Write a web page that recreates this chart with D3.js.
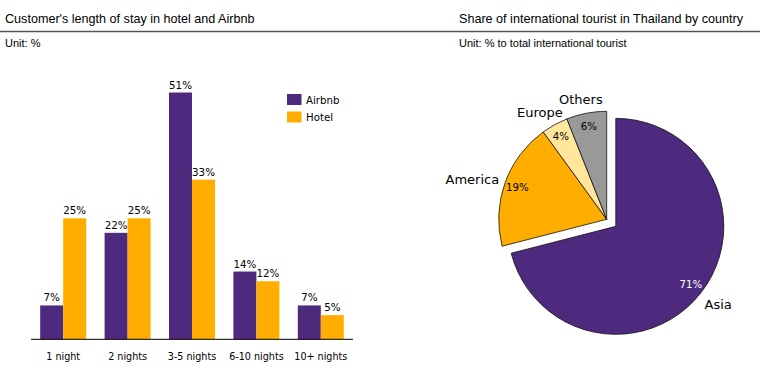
<!DOCTYPE html>
<html><head><meta charset="utf-8">
<script src="https://cdn.jsdelivr.net/npm/d3@7"></script>
<style>body{margin:0;background:#fff}svg{display:block}</style>
</head><body>
<svg id="c" width="760" height="375"></svg>
<script>
const categories = ["1 night","2 nights","3-5 nights","6-10 nights","10+ nights"];
const seriesNames = ["Airbnb","Hotel"];
const airbnb = [7,22,51,14,7];
const hotel = [25,25,33,12,5];
const regions = ["Asia","America","Europe","Others"];
const shares = [71,19,4,6];

const purple = "#4E2A7E", orange = "#FFAE00";
const pieColors = [purple, orange, "#FFE69A", "#999999"];
const svg = d3.select("#c");
const titleFont = "'Liberation Sans', Arial, sans-serif";
const chartFont = "'DejaVu Sans', Verdana, sans-serif";

// header
svg.append("line").attr("x1",0).attr("x2",760).attr("y1",31.5).attr("y2",31.5)
  .attr("stroke","#555").attr("stroke-width",1.6);
svg.append("text").attr("x",5).attr("y",23).attr("font-family",titleFont).attr("font-size",12.6)
  .text("Customer's length of stay in hotel and Airbnb");
svg.append("text").attr("x",5).attr("y",47).attr("font-family",titleFont).attr("font-size",11)
  .text("Unit: %");
svg.append("text").attr("x",459).attr("y",23).attr("font-family",titleFont).attr("font-size",12.6)
  .text("Share of international tourist in Thailand by country");
svg.append("text").attr("x",459).attr("y",47).attr("font-family",titleFont).attr("font-size",11)
  .text("Unit: % to total international tourist");

// bar chart
const x0 = d3.scaleBand().domain(categories).range([31,353]);
const x1 = d3.scaleBand().domain(seriesNames).range([-23,23]);
const y = d3.scaleLinear().domain([0,51]).range([339.3,92.5]);
const rows = categories.map((c,i)=>({cat:c, vals:[{s:"Airbnb",v:airbnb[i]},{s:"Hotel",v:hotel[i]}]}));
const color = d3.scaleOrdinal().domain(seriesNames).range([purple, orange]);

const g = svg.append("g");
const grp = g.selectAll("g.grp").data(rows).join("g")
  .attr("transform", d=>`translate(${x0(d.cat)+x0.bandwidth()/2},0)`);
grp.selectAll("rect").data(d=>d.vals).join("rect")
  .attr("x", d=>x1(d.s)).attr("width", x1.bandwidth())
  .attr("y", d=>y(d.v)).attr("height", d=>y(0)-y(d.v))
  .attr("fill", d=>color(d.s));
grp.selectAll("text").data(d=>d.vals).join("text")
  .attr("x", d=>x1(d.s)+x1.bandwidth()/2).attr("y", d=>y(d.v)-4)
  .attr("text-anchor","middle").attr("font-family",chartFont).attr("font-size",10.3)
  .text(d=>d.v+"%");

const xAxis = g.append("g").attr("transform","translate(0,339.3)")
  .call(d3.axisBottom(x0).tickSize(0).tickPadding(14));
xAxis.select(".domain").attr("stroke","#000").attr("d","M31,0H353");
xAxis.selectAll("text").attr("font-family",chartFont).attr("font-size",9.6).attr("fill","#000");

// legend
const leg = svg.append("g").attr("transform","translate(287,94)");
seriesNames.forEach((s,i)=>{
  leg.append("rect").attr("x",0).attr("y",i*17.5).attr("width",14.5).attr("height",11).attr("fill",color(s));
  leg.append("text").attr("x",19).attr("y",i*17.5+9.5).attr("font-family",chartFont).attr("font-size",10.2).text(s);
});

// pie
const cx = 606.7, cy = 219.3, r = 108;
const pie = d3.pie().sort(null).value(d=>d.v);
const arcs = pie(regions.map((n,i)=>({n, v:shares[i]})));
const arc = d3.arc().innerRadius(0).outerRadius(r);
const pg = svg.append("g").attr("transform",`translate(${cx},${cy})`);
const explode = 11.5;
arcs.forEach((a,i)=>{
  const mid = (a.startAngle+a.endAngle)/2;
  const dx = Math.sin(mid), dy = -Math.cos(mid);
  const off = i===0 ? explode : 0;
  const sg = pg.append("g").attr("transform",`translate(${dx*off},${dy*off})`);
  sg.append("path").attr("d",arc(a)).attr("fill",pieColors[i]).attr("stroke","#111").attr("stroke-width",0.8);
  sg.append("text").attr("x",dx*95).attr("y",dy*95).attr("dy","0.35em")
    .attr("text-anchor","middle").attr("font-family",chartFont).attr("font-size",10.2)
    .attr("fill", i===0 ? "#fff" : "#000").text(a.data.v+"%");
  const t = sg.append("text").attr("font-family",chartFont).attr("font-size",13)
    .attr("text-anchor","middle").attr("dy","0.35em").text(a.data.n);
  const w = t.node().getComputedTextLength();
  const R = 116;
  t.attr("x", dx*R + dx*w/2).attr("y", dy*R + dy*8 + 2);
});
</script>
</body></html>
